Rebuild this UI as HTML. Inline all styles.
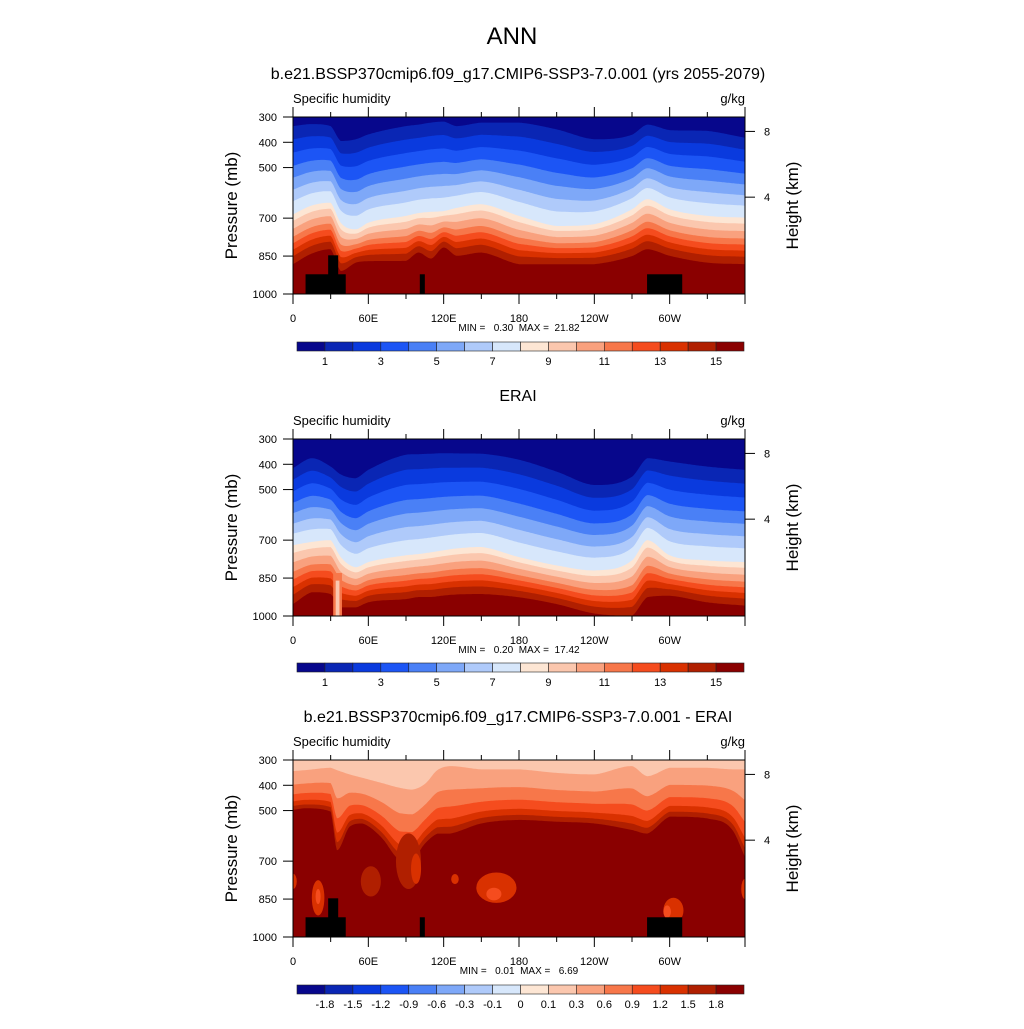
<!DOCTYPE html>
<html><head><meta charset="utf-8"><style>
html,body{margin:0;padding:0;background:#fff;}
svg text{font-family:"Liberation Sans",Arial,sans-serif;fill:#000;}
</style></head><body>
<svg id="chart" width="1024" height="1024" viewBox="0 0 1024 1024" xmlns="http://www.w3.org/2000/svg">
<text x="512" y="44" font-size="24" text-anchor="middle">ANN</text>
<text x="518" y="79" font-size="16" text-anchor="middle">b.e21.BSSP370cmip6.f09_g17.CMIP6-SSP3-7.0.001 (yrs 2055-2079)</text>
<text x="518" y="401" font-size="16" text-anchor="middle">ERAI</text>
<text x="518" y="722" font-size="16" text-anchor="middle">b.e21.BSSP370cmip6.f09_g17.CMIP6-SSP3-7.0.001 - ERAI</text>
</svg>
<script>
// ---- data ----
const palette = ["#07078c","#0a26b4","#0a3ade","#1c55f5","#4a80f6","#7ea8f8","#afcafa","#d7e7fb","#fde6d4","#fbc7ae","#f9a17e","#f7774a","#f54c1e","#d93100","#b01f00","#8a0000"];
const cbLabels1 = ["1","3","5","7","9","11","13","15"];
const cbLabels3 = ["-1.8","-1.5","-1.2","-0.9","-0.6","-0.3","-0.1","0","0.1","0.3","0.6","0.9","1.2","1.5","1.8"];
const xTickLabels = ["0","60E","120E","180","120W","60W"];
const xTickLons = [0,60,120,180,240,300];
const pTicks = [300,400,500,700,850,1000];
const hTicks = [8,4];
const hTickP = [357,617];

const lonNodes = [0,15,30,38,50,60,90,100,110,120,130,150,180,210,240,270,282,300,330,360];
const p1Top = [336,328,336,395,388,369,336,330,322,318,336,322,322,349,388,370,330,352,355,382];
const p1Mid = [685,650,639,718,744,718,691,680,675,672,660,645,691,731,724,665,625,665,691,698];
const p1Bot = [882,840,823,909,876,870,869,836,860,816,849,836,882,882,882,850,823,849,876,882];
const p2Top = [415,376,409,440,455,422,362,360,358,356,357,358,382,429,482,449,376,389,409,422];
const p2Mid = [720,707,700,767,807,787,760,755,748,740,733,727,767,800,820,780,700,760,780,787];
const p2Bot = [953,906,913,966,966,946,933,925,925,919,915,913,926,953,990,999,926,920,946,959];
const fracUpper = [0,0.15,0.30,0.45,0.585,0.72,0.85,1];
const fracLower = [0.13,0.29,0.45,0.58,0.71,0.84,1];

const lonNodes3 = [0,10,30,35,45,55,70,85,95,105,115,125,150,180,210,240,270,282,300,330,350,360];
const p3Top = [344,340,331,340,357,370,390,410,417,395,340,324,337,337,351,357,324,364,331,331,337,337];
const p3Bot = [497,491,504,657,564,551,604,697,697,631,591,591,551,537,544,551,577,591,524,531,577,684];
const frac3 = [0,0.35,0.6,0.78,0.9,1];
// blobs: lon, p, rxDeg, rp, colorIndex
const blobs3 = [[92,700,10,110,14],[98,730,4,60,13],[20,845,5,70,13],[20,840,2,30,12],[162,805,16,60,13],[160,830,6,25,12],[129,771,3,20,13],[303,895,8,50,13],[298,900,3,25,12],[0,780,3,30,13],[360,810,3,40,13],[62,780,8,60,14]];
// column anomaly in ERAI: lon0, lon1, pTop, colorIndex
const column2 = [[32,39,830,11],[34,37,860,9]];
// topography masks: lon0, lon1, pTop
const topo = [[10,42,922],[28,36,847],[101,105,922],[282,310,922]];

const panelTops = [117,439,760];
const cbTops = [342,663,985];
const minMax = ["MIN =   0.30  MAX =  21.82","MIN =   0.20  MAX =  17.42","MIN =   0.01  MAX =   6.69"];

// ---- helpers ----
const NS="http://www.w3.org/2000/svg";
const svg=document.getElementById('chart');
const X0=293, W=452, H=177;
function xs(lon){return X0+lon/360*W;}
function ysF(top){return p=>top+(p-300)/700*H;}
function interp(nodes,vals,lon){
  const n=nodes.length;
  for(let i=0;i<n-1;i++){
    if(lon<=nodes[i+1]){
      const h=nodes[i+1]-nodes[i], t=(lon-nodes[i])/h;
      const slope=(a,b)=> (vals[b]-vals[a])/(nodes[b]-nodes[a]);
      let m0 = i>0 ? 0.5*(slope(i-1,i)+slope(i,i+1)) : slope(i,i+1);
      let m1 = i<n-2 ? 0.5*(slope(i,i+1)+slope(i+1,i+2)) : slope(i,i+1);
      const d=slope(i,i+1);
      if(d===0){m0=0;m1=0;} else { if(m0/d<0)m0=0; if(m1/d<0)m1=0; if(m0/d>3)m0=3*d; if(m1/d>3)m1=3*d; }
      const t2=t*t,t3=t2*t;
      return (2*t3-3*t2+1)*vals[i]+(t3-2*t2+t)*h*m0+(-2*t3+3*t2)*vals[i+1]+(t3-t2)*h*m1;
    }
  }
  return vals[n-1];
}
function mk(tag,attrs,parent){const e=document.createElementNS(NS,tag);for(const k in attrs)e.setAttribute(k,attrs[k]);(parent||svg).appendChild(e);return e;}
function fillBelow(g,ys,fn,color){
  let pts=[];
  for(let lon=0;lon<=360;lon+=1){pts.push(xs(lon).toFixed(1)+","+ys(Math.max(300,Math.min(1000,fn(lon)))).toFixed(1));}
  pts.push(xs(360)+","+ys(1000));pts.push(xs(0)+","+ys(1000));
  const e=mk('polygon',{points:pts.join(' '),fill:color},g);
  
  
}

function drawPanel(idx){
  const top=panelTops[idx], ys=ysF(top);
  const g=mk('g',{});
  
  
  const clipId='clip'+idx;
  const cp=mk('clipPath',{id:clipId},g);mk('rect',{x:X0,y:top,width:W,height:H},cp);
  const f=mk('g',{'clip-path':'url(#'+clipId+')'},g);
  if(idx<2){
    const T=idx==0?p1Top:p2Top, M=idx==0?p1Mid:p2Mid, B=idx==0?p1Bot:p2Bot;
    mk('rect',{x:X0,y:top,width:W,height:H,fill:palette[0]},f);
    for(let i=0;i<15;i++){
      const fn = i<8 ? (lon=>{const t=interp(lonNodes,T,lon),m=interp(lonNodes,M,lon);return t+(m-t)*fracUpper[i];})
                     : (lon=>{const m=interp(lonNodes,M,lon),b=interp(lonNodes,B,lon);return m+(b-m)*fracLower[i-8];});
      fillBelow(f,ys,fn,palette[i+1]);
    }
    if(idx==1){
      column2.forEach(c=>{const r=mk('rect',{x:xs(c[0]),y:ys(c[2]),width:xs(c[1])-xs(c[0]),height:ys(1000)-ys(c[2]),fill:palette[c[3]]},f);
        });
    }
  } else {
    mk('rect',{x:X0,y:top,width:W,height:H,fill:palette[9]},f);
    for(let i=0;i<6;i++){
      const fn=lon=>{const t=interp(lonNodes3,p3Top,lon),b=interp(lonNodes3,p3Bot,lon);return t+(b-t)*frac3[i];};
      fillBelow(f,ys,fn,palette[10+i]);
    }
    blobs3.forEach(b=>{const e=mk('ellipse',{cx:xs(b[0]),cy:ys(b[1]),rx:b[2]/360*W,ry:b[3]/700*H,fill:palette[b[4]]},f);
      });
  }
  if(idx!=1){
    topo.forEach(t=>{const r=mk('rect',{x:xs(t[0]),y:ys(t[2]),width:xs(t[1])-xs(t[0]),height:ys(1000)-ys(t[2]),fill:'#000'},f);
      });
  }
  mk('rect',{x:X0,y:top,width:W,height:H,fill:'none',stroke:'#000','stroke-width':1},g);
  for(let lon=0;lon<=360;lon+=30){
    const major=lon%60==0, L=major?10:5, x=xs(lon);
    mk('line',{x1:x,y1:top+H,x2:x,y2:top+H+L,stroke:'#000'},g);
    mk('line',{x1:x,y1:top,x2:x,y2:top-L,stroke:'#000'},g);
  }
  xTickLons.forEach((lon,i)=>{const t=mk('text',{x:xs(lon),y:top+H+28,'font-size':11,'text-anchor':'middle'},g);t.textContent=xTickLabels[i];
    });
  pTicks.forEach(p=>{mk('line',{x1:X0,y1:ys(p),x2:X0-10,y2:ys(p),stroke:'#000'},g);
    const t=mk('text',{x:X0-16,y:ys(p)+4,'font-size':11,'text-anchor':'end'},g);t.textContent=p;
    });
  hTicks.forEach((h,i)=>{const y=ys(hTickP[i]);mk('line',{x1:X0+W,y1:y,x2:X0+W+10,y2:y,stroke:'#000'},g);
    const t=mk('text',{x:X0+W+19,y:y+4,'font-size':11},g);t.textContent=h;
    });
  let t=mk('text',{x:X0,y:top-14,'font-size':13},g);t.textContent='Specific humidity';
  
  t=mk('text',{x:X0+W,y:top-14,'font-size':13,'text-anchor':'end'},g);t.textContent='g/kg';
  
  t=mk('text',{x:237,y:top+H/2,'font-size':17,'text-anchor':'middle',transform:'rotate(-90 237 '+(top+H/2)+')'},g);t.textContent='Pressure (mb)';
  
  t=mk('text',{x:798,y:top+H/2,'font-size':17,'text-anchor':'middle',transform:'rotate(-90 798 '+(top+H/2)+')'},g);t.textContent='Height (km)';
  
  t=mk('text',{x:519,y:top+H+37,'font-size':10,'text-anchor':'middle',style:'white-space:pre'},g);t.textContent=minMax[idx];
  
  const cy=cbTops[idx], cx=297, bw=(744-297)/16;
  const cb=mk('g',{});
  
  
  palette.forEach((c,i)=>{const r=mk('rect',{x:cx+i*bw,y:cy,width:bw,height:9,fill:c,stroke:'#222','stroke-width':0.6},cb);
    });
  if(idx<2){cbLabels1.forEach((l,i)=>{const tt=mk('text',{x:cx+(1+2*i)*bw,y:cy+23,'font-size':11,'text-anchor':'middle'},cb);tt.textContent=l;
    });}
  else{cbLabels3.forEach((l,i)=>{const tt=mk('text',{x:cx+(1+i)*bw,y:cy+23,'font-size':11,'text-anchor':'middle'},cb);tt.textContent=l;
    });}
}
[0,1,2].forEach(drawPanel);
</script>
</body></html>
